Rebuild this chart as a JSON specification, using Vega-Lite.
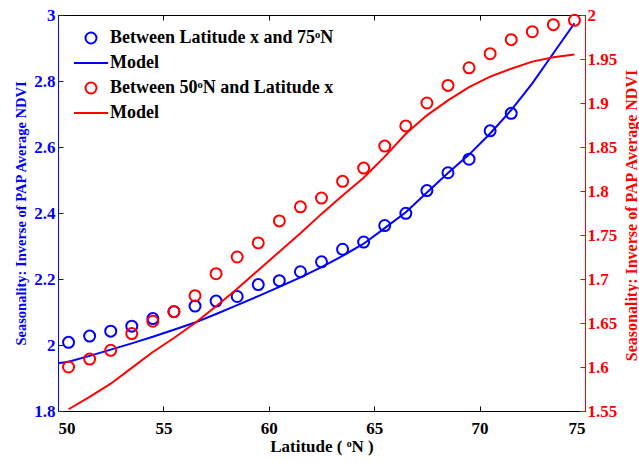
{
  "$schema": "https://vega.github.io/schema/vega-lite/v6.json",
  "width": 527,
  "height": 396,
  "autosize": {"type": "none"},
  "padding": {"left": 58, "right": 54, "top": 15, "bottom": 51},
  "background": "white",
  "config": {
    "view": {"stroke": null},
    "font": "Liberation Serif",
    "axis": {
      "labelFont": "Liberation Serif",
      "labelFontWeight": "bold",
      "labelFontSize": 17,
      "titleFont": "Liberation Serif",
      "titleFontWeight": "bold",
      "grid": false,
      "tickSize": -5,
      "tickWidth": 1,
      "domainWidth": 1
    },
    "legend": {
      "labelFont": "Liberation Serif",
      "labelFontWeight": "bold",
      "labelFontSize": 18,
      "labelColor": "black"
    }
  },
  "datasets": {
    "blue_obs": [
      {"lat": 50.5, "v": 2.008, "series": "b_obs"},
      {"lat": 51.5, "v": 2.027, "series": "b_obs"},
      {"lat": 52.5, "v": 2.042, "series": "b_obs"},
      {"lat": 53.5, "v": 2.057, "series": "b_obs"},
      {"lat": 54.5, "v": 2.080, "series": "b_obs"},
      {"lat": 55.5, "v": 2.101, "series": "b_obs"},
      {"lat": 56.5, "v": 2.118, "series": "b_obs"},
      {"lat": 57.5, "v": 2.133, "series": "b_obs"},
      {"lat": 58.5, "v": 2.147, "series": "b_obs"},
      {"lat": 59.5, "v": 2.183, "series": "b_obs"},
      {"lat": 60.5, "v": 2.195, "series": "b_obs"},
      {"lat": 61.5, "v": 2.222, "series": "b_obs"},
      {"lat": 62.5, "v": 2.252, "series": "b_obs"},
      {"lat": 63.5, "v": 2.290, "series": "b_obs"},
      {"lat": 64.5, "v": 2.312, "series": "b_obs"},
      {"lat": 65.5, "v": 2.362, "series": "b_obs"},
      {"lat": 66.5, "v": 2.399, "series": "b_obs"},
      {"lat": 67.5, "v": 2.468, "series": "b_obs"},
      {"lat": 68.5, "v": 2.522, "series": "b_obs"},
      {"lat": 69.5, "v": 2.563, "series": "b_obs"},
      {"lat": 70.5, "v": 2.649, "series": "b_obs"},
      {"lat": 71.5, "v": 2.702, "series": "b_obs"}
    ],
    "blue_mod": [
      {"lat": 50.0, "v": 1.945, "series": "b_mod"},
      {"lat": 50.5, "v": 1.949, "series": "b_mod"},
      {"lat": 51.5, "v": 1.967, "series": "b_mod"},
      {"lat": 52.5, "v": 1.986, "series": "b_mod"},
      {"lat": 53.5, "v": 2.005, "series": "b_mod"},
      {"lat": 54.5, "v": 2.025, "series": "b_mod"},
      {"lat": 55.5, "v": 2.046, "series": "b_mod"},
      {"lat": 56.5, "v": 2.068, "series": "b_mod"},
      {"lat": 57.5, "v": 2.094, "series": "b_mod"},
      {"lat": 58.5, "v": 2.121, "series": "b_mod"},
      {"lat": 59.5, "v": 2.148, "series": "b_mod"},
      {"lat": 60.5, "v": 2.176, "series": "b_mod"},
      {"lat": 61.5, "v": 2.205, "series": "b_mod"},
      {"lat": 62.5, "v": 2.236, "series": "b_mod"},
      {"lat": 63.5, "v": 2.270, "series": "b_mod"},
      {"lat": 64.5, "v": 2.307, "series": "b_mod"},
      {"lat": 65.5, "v": 2.354, "series": "b_mod"},
      {"lat": 66.5, "v": 2.402, "series": "b_mod"},
      {"lat": 67.5, "v": 2.462, "series": "b_mod"},
      {"lat": 68.5, "v": 2.521, "series": "b_mod"},
      {"lat": 69.5, "v": 2.577, "series": "b_mod"},
      {"lat": 70.5, "v": 2.641, "series": "b_mod"},
      {"lat": 71.5, "v": 2.712, "series": "b_mod"},
      {"lat": 72.5, "v": 2.793, "series": "b_mod"},
      {"lat": 73.5, "v": 2.884, "series": "b_mod"},
      {"lat": 74.5, "v": 2.975, "series": "b_mod"}
    ],
    "red_obs": [
      {"lat": 50.5, "v": 1.600, "series": "r_obs"},
      {"lat": 51.5, "v": 1.609, "series": "r_obs"},
      {"lat": 52.5, "v": 1.619, "series": "r_obs"},
      {"lat": 53.5, "v": 1.638, "series": "r_obs"},
      {"lat": 54.5, "v": 1.652, "series": "r_obs"},
      {"lat": 55.5, "v": 1.663, "series": "r_obs"},
      {"lat": 56.5, "v": 1.681, "series": "r_obs"},
      {"lat": 57.5, "v": 1.706, "series": "r_obs"},
      {"lat": 58.5, "v": 1.725, "series": "r_obs"},
      {"lat": 59.5, "v": 1.741, "series": "r_obs"},
      {"lat": 60.5, "v": 1.766, "series": "r_obs"},
      {"lat": 61.5, "v": 1.782, "series": "r_obs"},
      {"lat": 62.5, "v": 1.792, "series": "r_obs"},
      {"lat": 63.5, "v": 1.811, "series": "r_obs"},
      {"lat": 64.5, "v": 1.826, "series": "r_obs"},
      {"lat": 65.5, "v": 1.851, "series": "r_obs"},
      {"lat": 66.5, "v": 1.874, "series": "r_obs"},
      {"lat": 67.5, "v": 1.900, "series": "r_obs"},
      {"lat": 68.5, "v": 1.920, "series": "r_obs"},
      {"lat": 69.5, "v": 1.940, "series": "r_obs"},
      {"lat": 70.5, "v": 1.956, "series": "r_obs"},
      {"lat": 71.5, "v": 1.972, "series": "r_obs"},
      {"lat": 72.5, "v": 1.981, "series": "r_obs"},
      {"lat": 73.5, "v": 1.989, "series": "r_obs"},
      {"lat": 74.5, "v": 1.994, "series": "r_obs"}
    ],
    "red_mod": [
      {"lat": 50.5, "v": 1.552, "series": "r_mod"},
      {"lat": 51.5, "v": 1.566, "series": "r_mod"},
      {"lat": 52.5, "v": 1.581, "series": "r_mod"},
      {"lat": 53.5, "v": 1.599, "series": "r_mod"},
      {"lat": 54.5, "v": 1.617, "series": "r_mod"},
      {"lat": 55.5, "v": 1.633, "series": "r_mod"},
      {"lat": 56.5, "v": 1.650, "series": "r_mod"},
      {"lat": 57.5, "v": 1.669, "series": "r_mod"},
      {"lat": 58.5, "v": 1.689, "series": "r_mod"},
      {"lat": 59.5, "v": 1.710, "series": "r_mod"},
      {"lat": 60.5, "v": 1.731, "series": "r_mod"},
      {"lat": 61.5, "v": 1.752, "series": "r_mod"},
      {"lat": 62.5, "v": 1.774, "series": "r_mod"},
      {"lat": 63.5, "v": 1.795, "series": "r_mod"},
      {"lat": 64.5, "v": 1.815, "series": "r_mod"},
      {"lat": 65.5, "v": 1.839, "series": "r_mod"},
      {"lat": 66.5, "v": 1.865, "series": "r_mod"},
      {"lat": 67.5, "v": 1.886, "series": "r_mod"},
      {"lat": 68.5, "v": 1.903, "series": "r_mod"},
      {"lat": 69.5, "v": 1.918, "series": "r_mod"},
      {"lat": 70.5, "v": 1.930, "series": "r_mod"},
      {"lat": 71.5, "v": 1.939, "series": "r_mod"},
      {"lat": 72.5, "v": 1.947, "series": "r_mod"},
      {"lat": 73.5, "v": 1.952, "series": "r_mod"},
      {"lat": 74.5, "v": 1.955, "series": "r_mod"}
    ]
  },
  "layer": [
    {
      "encoding": {
        "x": {
          "field": "lat", "type": "quantitative",
          "scale": {"domain": [50, 75], "nice": false, "zero": false},
          "axis": {
            "values": [50, 55, 60, 65, 70, 75],
            "title": "Latitude ( ᵒN )",
            "titleFontSize": 17,
            "titlePadding": 2,
            "labelPadding": 14,
            "domainColor": "black",
            "tickColor": "black",
            "labelColor": "black",
            "titleColor": "black"
          }
        },
        "y": {
          "field": "v", "type": "quantitative",
          "scale": {"domain": [1.8, 3], "nice": false, "zero": false},
          "axis": {
            "values": [1.8, 2, 2.2, 2.4, 2.6, 2.8, 3],
            "format": ".1~f",
            "title": "Seasonality: Inverse of PAP Average NDVI",
            "titleFontSize": 14.5,
            "titleColor": "#0000ff",
            "labelColor": "#0000ff",
            "domainColor": "#0000ff",
            "tickColor": "#0000ff",
            "labelPadding": 8,
            "titlePadding": 5
          }
        }
      },
      "layer": [
        {
          "data": {"name": "blue_mod"},
          "mark": {"type": "line", "strokeWidth": 2},
          "encoding": {
            "color": {"field": "series", "type": "nominal"}
          }
        },
        {
          "data": {"name": "blue_obs"},
          "mark": {"type": "point", "filled": false, "strokeWidth": 2, "size": 121, "opacity": 1},
          "encoding": {
            "color": {"field": "series", "type": "nominal"},
            "shape": {"field": "series", "type": "nominal"}
          }
        }
      ]
    },
    {
      "encoding": {
        "x": {
          "field": "lat", "type": "quantitative",
          "scale": {"domain": [50, 75], "nice": false, "zero": false},
          "axis": {
            "orient": "top",
            "values": [50, 55, 60, 65, 70, 75],
            "labels": false,
            "title": null,
            "domainColor": "black",
            "tickColor": "black"
          }
        },
        "y": {
          "field": "v", "type": "quantitative",
          "scale": {"domain": [1.55, 2], "nice": false, "zero": false},
          "axis": {
            "orient": "right",
            "values": [1.55, 1.6, 1.65, 1.7, 1.75, 1.8, 1.85, 1.9, 1.95, 2],
            "format": ".2~f",
            "title": "Seasonality: Inverse of PAP Average NDVI",
            "titleFontSize": 16,
            "titleAngle": 270,
            "titleX": 46,
            "titleY": 200,
            "titleAlign": "center",
            "titleBaseline": "middle",
            "titleColor": "#ff0000",
            "labelColor": "#ff0000",
            "domainColor": "#ff0000",
            "tickColor": "#ff0000",
            "labelPadding": 7
          }
        }
      },
      "layer": [
        {
          "data": {"name": "red_mod"},
          "mark": {"type": "line", "strokeWidth": 2},
          "encoding": {
            "color": {
              "field": "series", "type": "nominal",
              "scale": {
                "domain": ["b_obs", "b_mod", "r_obs", "r_mod"],
                "range": ["#0000ff", "#0000ff", "#ff0000", "#ff0000"]
              },
              "legend": {
                "title": null,
                "orient": "none",
                "legendX": 24,
                "legendY": 14,
                "symbolSize": 121,
                "symbolStrokeWidth": 2,
                "labelOffset": 10,
                "rowPadding": 6,
                "labelLimit": 400,
                "labelExpr": "datum.label == 'b_obs' ? 'Between Latitude x and 75ᵒN' : datum.label == 'r_obs' ? 'Between 50ᵒN and Latitude x' : 'Model'"
              }
            }
          }
        },
        {
          "data": {"name": "red_obs"},
          "mark": {"type": "point", "filled": false, "strokeWidth": 2, "size": 121, "opacity": 1},
          "encoding": {
            "color": {"field": "series", "type": "nominal"},
            "shape": {
              "field": "series", "type": "nominal",
              "scale": {
                "domain": ["b_obs", "b_mod", "r_obs", "r_mod"],
                "range": ["circle", "M-3.1,0H3.1", "circle", "M-3.1,0H3.1"]
              }
            }
          }
        }
      ]
    }
  ],
  "resolve": {"scale": {"y": "independent"}, "axis": {"x": "independent"}}
}
